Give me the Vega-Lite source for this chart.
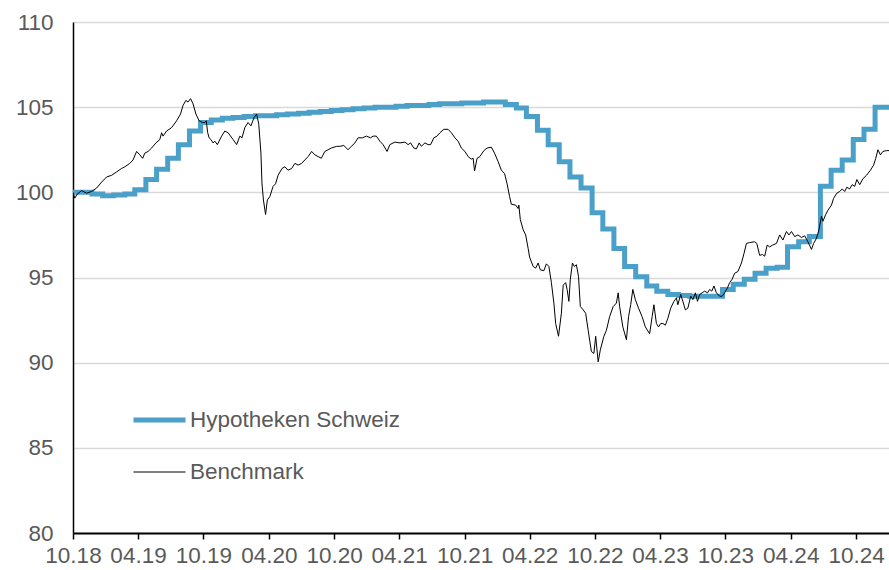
{
 "$schema": "https://vega.github.io/schema/vega-lite/v6.json",
 "width": 816, "height": 511,
 "autosize": "none",
 "padding": {"left": 73, "top": 22, "right": 0, "bottom": 37},
 "background": "white",
 "config": {"view": {"stroke": null}, "font": "Liberation Sans"},
 "datasets": {
  "hypo": [
   {"date":"2018-10-01","series":"Hypotheken Schweiz","value":100.0},
   {"date":"2018-10-23","series":"Hypotheken Schweiz","value":100.0},
   {"date":"2018-11-23","series":"Hypotheken Schweiz","value":99.9},
   {"date":"2018-12-23","series":"Hypotheken Schweiz","value":99.8},
   {"date":"2019-01-23","series":"Hypotheken Schweiz","value":99.85},
   {"date":"2019-02-23","series":"Hypotheken Schweiz","value":99.9},
   {"date":"2019-03-23","series":"Hypotheken Schweiz","value":100.15},
   {"date":"2019-04-23","series":"Hypotheken Schweiz","value":100.75},
   {"date":"2019-05-23","series":"Hypotheken Schweiz","value":101.35},
   {"date":"2019-06-23","series":"Hypotheken Schweiz","value":102.0},
   {"date":"2019-07-23","series":"Hypotheken Schweiz","value":102.8},
   {"date":"2019-08-23","series":"Hypotheken Schweiz","value":103.6},
   {"date":"2019-09-23","series":"Hypotheken Schweiz","value":104.1},
   {"date":"2019-10-23","series":"Hypotheken Schweiz","value":104.25},
   {"date":"2019-11-23","series":"Hypotheken Schweiz","value":104.35},
   {"date":"2019-12-23","series":"Hypotheken Schweiz","value":104.4},
   {"date":"2020-01-23","series":"Hypotheken Schweiz","value":104.45},
   {"date":"2020-02-23","series":"Hypotheken Schweiz","value":104.5},
   {"date":"2020-03-23","series":"Hypotheken Schweiz","value":104.5},
   {"date":"2020-04-23","series":"Hypotheken Schweiz","value":104.55},
   {"date":"2020-05-23","series":"Hypotheken Schweiz","value":104.6},
   {"date":"2020-06-23","series":"Hypotheken Schweiz","value":104.65},
   {"date":"2020-07-23","series":"Hypotheken Schweiz","value":104.7},
   {"date":"2020-08-23","series":"Hypotheken Schweiz","value":104.75},
   {"date":"2020-09-23","series":"Hypotheken Schweiz","value":104.8},
   {"date":"2020-10-23","series":"Hypotheken Schweiz","value":104.85},
   {"date":"2020-11-23","series":"Hypotheken Schweiz","value":104.9},
   {"date":"2020-12-23","series":"Hypotheken Schweiz","value":104.95},
   {"date":"2021-01-23","series":"Hypotheken Schweiz","value":105.0},
   {"date":"2021-02-23","series":"Hypotheken Schweiz","value":105.0},
   {"date":"2021-03-23","series":"Hypotheken Schweiz","value":105.05},
   {"date":"2021-04-23","series":"Hypotheken Schweiz","value":105.1},
   {"date":"2021-05-23","series":"Hypotheken Schweiz","value":105.1},
   {"date":"2021-06-23","series":"Hypotheken Schweiz","value":105.15},
   {"date":"2021-07-23","series":"Hypotheken Schweiz","value":105.2},
   {"date":"2021-08-23","series":"Hypotheken Schweiz","value":105.2},
   {"date":"2021-09-23","series":"Hypotheken Schweiz","value":105.25},
   {"date":"2021-10-23","series":"Hypotheken Schweiz","value":105.25},
   {"date":"2021-11-23","series":"Hypotheken Schweiz","value":105.3},
   {"date":"2021-12-23","series":"Hypotheken Schweiz","value":105.3},
   {"date":"2022-01-23","series":"Hypotheken Schweiz","value":105.15},
   {"date":"2022-02-23","series":"Hypotheken Schweiz","value":104.95},
   {"date":"2022-03-23","series":"Hypotheken Schweiz","value":104.45},
   {"date":"2022-04-23","series":"Hypotheken Schweiz","value":103.65},
   {"date":"2022-05-23","series":"Hypotheken Schweiz","value":102.8},
   {"date":"2022-06-23","series":"Hypotheken Schweiz","value":101.8},
   {"date":"2022-07-23","series":"Hypotheken Schweiz","value":100.9},
   {"date":"2022-08-23","series":"Hypotheken Schweiz","value":100.25},
   {"date":"2022-09-23","series":"Hypotheken Schweiz","value":98.8},
   {"date":"2022-10-23","series":"Hypotheken Schweiz","value":97.85},
   {"date":"2022-11-23","series":"Hypotheken Schweiz","value":96.7},
   {"date":"2022-12-23","series":"Hypotheken Schweiz","value":95.65},
   {"date":"2023-01-23","series":"Hypotheken Schweiz","value":95.05},
   {"date":"2023-02-23","series":"Hypotheken Schweiz","value":94.5},
   {"date":"2023-03-23","series":"Hypotheken Schweiz","value":94.2},
   {"date":"2023-04-23","series":"Hypotheken Schweiz","value":94.0},
   {"date":"2023-05-23","series":"Hypotheken Schweiz","value":93.95},
   {"date":"2023-06-23","series":"Hypotheken Schweiz","value":93.9},
   {"date":"2023-07-23","series":"Hypotheken Schweiz","value":93.9},
   {"date":"2023-08-23","series":"Hypotheken Schweiz","value":93.9},
   {"date":"2023-09-23","series":"Hypotheken Schweiz","value":94.3},
   {"date":"2023-10-23","series":"Hypotheken Schweiz","value":94.6},
   {"date":"2023-11-23","series":"Hypotheken Schweiz","value":94.9},
   {"date":"2023-12-23","series":"Hypotheken Schweiz","value":95.25},
   {"date":"2024-01-23","series":"Hypotheken Schweiz","value":95.55},
   {"date":"2024-02-23","series":"Hypotheken Schweiz","value":95.6},
   {"date":"2024-03-23","series":"Hypotheken Schweiz","value":96.8},
   {"date":"2024-04-23","series":"Hypotheken Schweiz","value":97.1},
   {"date":"2024-05-23","series":"Hypotheken Schweiz","value":97.4},
   {"date":"2024-06-23","series":"Hypotheken Schweiz","value":100.35},
   {"date":"2024-07-23","series":"Hypotheken Schweiz","value":101.3},
   {"date":"2024-08-23","series":"Hypotheken Schweiz","value":101.9},
   {"date":"2024-09-23","series":"Hypotheken Schweiz","value":103.1},
   {"date":"2024-10-23","series":"Hypotheken Schweiz","value":103.7},
   {"date":"2024-11-23","series":"Hypotheken Schweiz","value":105.0},
   {"date":"2025-01-01","series":"Hypotheken Schweiz","value":105.0}
  ],
  "bench": [
   {"date":"2018-10-01","series":"Benchmark","value":100.0},
   {"date":"2018-10-06","series":"Benchmark","value":99.66},
   {"date":"2018-10-13","series":"Benchmark","value":99.9},
   {"date":"2018-10-25","series":"Benchmark","value":100.1},
   {"date":"2018-11-08","series":"Benchmark","value":99.95},
   {"date":"2018-11-22","series":"Benchmark","value":100.05},
   {"date":"2018-12-06","series":"Benchmark","value":100.25},
   {"date":"2018-12-20","series":"Benchmark","value":100.6},
   {"date":"2019-01-03","series":"Benchmark","value":100.9},
   {"date":"2019-01-17","series":"Benchmark","value":101.0},
   {"date":"2019-01-31","series":"Benchmark","value":101.2},
   {"date":"2019-02-14","series":"Benchmark","value":101.4},
   {"date":"2019-02-23","series":"Benchmark","value":101.5},
   {"date":"2019-03-09","series":"Benchmark","value":101.7},
   {"date":"2019-03-18","series":"Benchmark","value":101.9},
   {"date":"2019-03-28","series":"Benchmark","value":102.4},
   {"date":"2019-04-06","series":"Benchmark","value":102.2},
   {"date":"2019-04-14","series":"Benchmark","value":102.0},
   {"date":"2019-04-20","series":"Benchmark","value":102.3},
   {"date":"2019-04-29","series":"Benchmark","value":102.4},
   {"date":"2019-05-09","series":"Benchmark","value":102.6},
   {"date":"2019-05-21","series":"Benchmark","value":102.9},
   {"date":"2019-06-01","series":"Benchmark","value":103.1},
   {"date":"2019-06-06","series":"Benchmark","value":103.5},
   {"date":"2019-06-10","series":"Benchmark","value":103.3},
   {"date":"2019-06-20","series":"Benchmark","value":103.6},
   {"date":"2019-07-04","series":"Benchmark","value":103.8},
   {"date":"2019-07-18","series":"Benchmark","value":104.2},
   {"date":"2019-07-29","series":"Benchmark","value":104.6},
   {"date":"2019-08-05","series":"Benchmark","value":105.1},
   {"date":"2019-08-13","series":"Benchmark","value":105.4},
   {"date":"2019-08-19","series":"Benchmark","value":105.3},
   {"date":"2019-08-26","series":"Benchmark","value":105.5},
   {"date":"2019-09-02","series":"Benchmark","value":105.2},
   {"date":"2019-09-10","series":"Benchmark","value":104.6},
   {"date":"2019-09-19","series":"Benchmark","value":104.2},
   {"date":"2019-09-29","series":"Benchmark","value":104.1},
   {"date":"2019-10-05","series":"Benchmark","value":104.1},
   {"date":"2019-10-09","series":"Benchmark","value":104.2},
   {"date":"2019-10-13","series":"Benchmark","value":103.5},
   {"date":"2019-10-17","series":"Benchmark","value":103.2},
   {"date":"2019-10-22","series":"Benchmark","value":103.1},
   {"date":"2019-10-28","series":"Benchmark","value":102.9},
   {"date":"2019-11-02","series":"Benchmark","value":103.0},
   {"date":"2019-11-09","series":"Benchmark","value":102.8},
   {"date":"2019-11-21","series":"Benchmark","value":103.3},
   {"date":"2019-11-30","series":"Benchmark","value":103.6},
   {"date":"2019-12-09","series":"Benchmark","value":103.5},
   {"date":"2019-12-23","series":"Benchmark","value":103.1},
   {"date":"2020-01-02","series":"Benchmark","value":102.8},
   {"date":"2020-01-11","series":"Benchmark","value":103.3},
   {"date":"2020-01-17","series":"Benchmark","value":103.2},
   {"date":"2020-01-25","series":"Benchmark","value":103.8},
   {"date":"2020-02-03","series":"Benchmark","value":104.1},
   {"date":"2020-02-11","series":"Benchmark","value":103.9},
   {"date":"2020-02-20","series":"Benchmark","value":104.4},
   {"date":"2020-02-27","series":"Benchmark","value":104.6},
   {"date":"2020-03-04","series":"Benchmark","value":104.0},
   {"date":"2020-03-10","series":"Benchmark","value":102.3},
   {"date":"2020-03-13","series":"Benchmark","value":100.5},
   {"date":"2020-03-17","series":"Benchmark","value":99.55},
   {"date":"2020-03-23","series":"Benchmark","value":98.7},
   {"date":"2020-03-28","series":"Benchmark","value":99.55},
   {"date":"2020-04-04","series":"Benchmark","value":99.75},
   {"date":"2020-04-13","series":"Benchmark","value":100.35},
   {"date":"2020-04-20","series":"Benchmark","value":100.5},
   {"date":"2020-04-27","series":"Benchmark","value":101.0},
   {"date":"2020-05-08","series":"Benchmark","value":101.4},
   {"date":"2020-05-16","series":"Benchmark","value":101.5},
   {"date":"2020-05-25","series":"Benchmark","value":101.3},
   {"date":"2020-06-04","series":"Benchmark","value":101.4},
   {"date":"2020-06-13","series":"Benchmark","value":101.7},
   {"date":"2020-06-22","series":"Benchmark","value":101.6},
   {"date":"2020-07-02","series":"Benchmark","value":101.7},
   {"date":"2020-07-11","series":"Benchmark","value":101.9},
   {"date":"2020-07-20","series":"Benchmark","value":102.1},
   {"date":"2020-07-30","series":"Benchmark","value":102.4},
   {"date":"2020-08-08","series":"Benchmark","value":102.2},
   {"date":"2020-08-17","series":"Benchmark","value":102.1},
   {"date":"2020-08-26","series":"Benchmark","value":102.0},
   {"date":"2020-09-05","series":"Benchmark","value":102.4},
   {"date":"2020-09-14","series":"Benchmark","value":102.5},
   {"date":"2020-09-23","series":"Benchmark","value":102.6},
   {"date":"2020-10-08","series":"Benchmark","value":102.7},
   {"date":"2020-10-17","series":"Benchmark","value":102.7},
   {"date":"2020-10-28","series":"Benchmark","value":102.75},
   {"date":"2020-11-09","series":"Benchmark","value":102.5},
   {"date":"2020-11-18","series":"Benchmark","value":102.7},
   {"date":"2020-11-28","series":"Benchmark","value":102.9},
   {"date":"2020-12-07","series":"Benchmark","value":103.2},
   {"date":"2020-12-19","series":"Benchmark","value":103.2},
   {"date":"2020-12-30","series":"Benchmark","value":103.3},
   {"date":"2021-01-11","series":"Benchmark","value":103.2},
   {"date":"2021-01-18","series":"Benchmark","value":103.3},
   {"date":"2021-01-27","series":"Benchmark","value":103.3},
   {"date":"2021-02-06","series":"Benchmark","value":103.0},
   {"date":"2021-02-15","series":"Benchmark","value":102.8},
   {"date":"2021-02-26","series":"Benchmark","value":102.4},
   {"date":"2021-03-06","series":"Benchmark","value":102.8},
   {"date":"2021-03-20","series":"Benchmark","value":102.95},
   {"date":"2021-04-03","series":"Benchmark","value":102.9},
   {"date":"2021-04-17","series":"Benchmark","value":102.95},
   {"date":"2021-04-26","series":"Benchmark","value":102.8},
   {"date":"2021-05-03","series":"Benchmark","value":102.9},
   {"date":"2021-05-12","series":"Benchmark","value":102.6},
   {"date":"2021-05-19","series":"Benchmark","value":102.55},
   {"date":"2021-05-27","series":"Benchmark","value":102.9},
   {"date":"2021-06-02","series":"Benchmark","value":102.7},
   {"date":"2021-06-12","series":"Benchmark","value":102.9},
   {"date":"2021-06-21","series":"Benchmark","value":102.8},
   {"date":"2021-06-28","series":"Benchmark","value":102.8},
   {"date":"2021-07-07","series":"Benchmark","value":103.2},
   {"date":"2021-07-16","series":"Benchmark","value":103.3},
   {"date":"2021-07-24","series":"Benchmark","value":103.5},
   {"date":"2021-08-04","series":"Benchmark","value":103.7},
   {"date":"2021-08-16","series":"Benchmark","value":103.7},
   {"date":"2021-08-25","series":"Benchmark","value":103.5},
   {"date":"2021-09-04","series":"Benchmark","value":103.2},
   {"date":"2021-09-13","series":"Benchmark","value":103.0},
   {"date":"2021-09-22","series":"Benchmark","value":102.6},
   {"date":"2021-10-02","series":"Benchmark","value":102.4},
   {"date":"2021-10-11","series":"Benchmark","value":102.1},
   {"date":"2021-10-20","series":"Benchmark","value":101.95},
   {"date":"2021-10-25","series":"Benchmark","value":102.0},
   {"date":"2021-10-29","series":"Benchmark","value":101.25},
   {"date":"2021-11-05","series":"Benchmark","value":102.0},
   {"date":"2021-11-13","series":"Benchmark","value":102.1},
   {"date":"2021-11-24","series":"Benchmark","value":102.45},
   {"date":"2021-12-03","series":"Benchmark","value":102.6},
   {"date":"2021-12-15","series":"Benchmark","value":102.65},
   {"date":"2021-12-24","series":"Benchmark","value":102.3},
   {"date":"2022-01-03","series":"Benchmark","value":101.8},
   {"date":"2022-01-12","series":"Benchmark","value":101.3},
   {"date":"2022-01-21","series":"Benchmark","value":101.1},
   {"date":"2022-01-28","series":"Benchmark","value":100.5},
   {"date":"2022-02-04","series":"Benchmark","value":99.75},
   {"date":"2022-02-09","series":"Benchmark","value":99.3},
   {"date":"2022-02-21","series":"Benchmark","value":99.25},
   {"date":"2022-02-28","series":"Benchmark","value":99.05},
   {"date":"2022-03-02","series":"Benchmark","value":99.25},
   {"date":"2022-03-06","series":"Benchmark","value":98.4},
   {"date":"2022-03-14","series":"Benchmark","value":97.8},
   {"date":"2022-03-21","series":"Benchmark","value":97.5},
   {"date":"2022-03-28","series":"Benchmark","value":96.7},
   {"date":"2022-04-01","series":"Benchmark","value":96.2},
   {"date":"2022-04-11","series":"Benchmark","value":95.65},
   {"date":"2022-04-18","series":"Benchmark","value":95.55},
   {"date":"2022-04-25","series":"Benchmark","value":95.85},
   {"date":"2022-05-01","series":"Benchmark","value":95.45},
   {"date":"2022-05-11","series":"Benchmark","value":95.4},
   {"date":"2022-05-18","series":"Benchmark","value":95.8},
   {"date":"2022-05-25","series":"Benchmark","value":95.65},
   {"date":"2022-06-01","series":"Benchmark","value":94.7},
   {"date":"2022-06-08","series":"Benchmark","value":93.5},
   {"date":"2022-06-13","series":"Benchmark","value":92.3},
   {"date":"2022-06-21","series":"Benchmark","value":91.55},
   {"date":"2022-06-29","series":"Benchmark","value":92.9},
   {"date":"2022-07-04","series":"Benchmark","value":94.55},
   {"date":"2022-07-11","series":"Benchmark","value":94.7},
   {"date":"2022-07-15","series":"Benchmark","value":94.3},
   {"date":"2022-07-20","series":"Benchmark","value":93.6},
   {"date":"2022-07-24","series":"Benchmark","value":94.9},
   {"date":"2022-07-30","series":"Benchmark","value":95.85},
   {"date":"2022-08-04","series":"Benchmark","value":95.65},
   {"date":"2022-08-10","series":"Benchmark","value":95.75},
   {"date":"2022-08-16","series":"Benchmark","value":95.05},
   {"date":"2022-08-21","series":"Benchmark","value":93.3},
   {"date":"2022-08-29","series":"Benchmark","value":93.1},
   {"date":"2022-09-05","series":"Benchmark","value":92.9},
   {"date":"2022-09-12","series":"Benchmark","value":91.9},
   {"date":"2022-09-21","series":"Benchmark","value":90.65},
   {"date":"2022-09-28","series":"Benchmark","value":90.55},
   {"date":"2022-10-03","series":"Benchmark","value":91.55},
   {"date":"2022-10-10","series":"Benchmark","value":90.05},
   {"date":"2022-10-16","series":"Benchmark","value":90.75},
   {"date":"2022-10-26","series":"Benchmark","value":91.55},
   {"date":"2022-11-02","series":"Benchmark","value":91.9},
   {"date":"2022-11-11","series":"Benchmark","value":92.7},
   {"date":"2022-11-21","series":"Benchmark","value":93.3},
   {"date":"2022-11-30","series":"Benchmark","value":93.5},
   {"date":"2022-12-05","series":"Benchmark","value":94.1},
   {"date":"2022-12-09","series":"Benchmark","value":93.3},
   {"date":"2022-12-18","series":"Benchmark","value":92.1},
   {"date":"2022-12-28","series":"Benchmark","value":91.35},
   {"date":"2023-01-03","series":"Benchmark","value":92.7},
   {"date":"2023-01-09","series":"Benchmark","value":93.4},
   {"date":"2023-01-15","series":"Benchmark","value":94.3},
   {"date":"2023-01-22","series":"Benchmark","value":93.7},
   {"date":"2023-01-31","series":"Benchmark","value":93.2},
   {"date":"2023-02-10","series":"Benchmark","value":92.7},
   {"date":"2023-02-19","series":"Benchmark","value":92.1},
   {"date":"2023-03-03","series":"Benchmark","value":91.7},
   {"date":"2023-03-10","series":"Benchmark","value":92.7},
   {"date":"2023-03-15","series":"Benchmark","value":93.4},
   {"date":"2023-03-22","series":"Benchmark","value":92.3},
   {"date":"2023-03-28","series":"Benchmark","value":92.1},
   {"date":"2023-04-03","series":"Benchmark","value":92.3},
   {"date":"2023-04-09","series":"Benchmark","value":92.3},
   {"date":"2023-04-16","series":"Benchmark","value":92.2},
   {"date":"2023-04-23","series":"Benchmark","value":92.6},
   {"date":"2023-05-01","series":"Benchmark","value":93.2},
   {"date":"2023-05-10","series":"Benchmark","value":93.6},
   {"date":"2023-05-17","series":"Benchmark","value":93.8},
   {"date":"2023-05-21","series":"Benchmark","value":93.4},
   {"date":"2023-05-29","series":"Benchmark","value":94.0},
   {"date":"2023-06-04","series":"Benchmark","value":93.6},
   {"date":"2023-06-11","series":"Benchmark","value":93.1},
   {"date":"2023-06-18","series":"Benchmark","value":93.2},
   {"date":"2023-06-26","series":"Benchmark","value":93.9},
   {"date":"2023-07-02","series":"Benchmark","value":93.7},
   {"date":"2023-07-09","series":"Benchmark","value":94.1},
   {"date":"2023-07-15","series":"Benchmark","value":93.6},
   {"date":"2023-07-21","series":"Benchmark","value":94.0},
   {"date":"2023-07-28","series":"Benchmark","value":94.1},
   {"date":"2023-08-04","series":"Benchmark","value":94.2},
   {"date":"2023-08-12","series":"Benchmark","value":94.1},
   {"date":"2023-08-18","series":"Benchmark","value":94.3},
   {"date":"2023-08-24","series":"Benchmark","value":94.2},
   {"date":"2023-08-30","series":"Benchmark","value":94.5},
   {"date":"2023-09-06","series":"Benchmark","value":94.1},
   {"date":"2023-09-15","series":"Benchmark","value":93.9},
   {"date":"2023-09-22","series":"Benchmark","value":93.9},
   {"date":"2023-09-29","series":"Benchmark","value":94.1},
   {"date":"2023-10-07","series":"Benchmark","value":94.4},
   {"date":"2023-10-13","series":"Benchmark","value":94.7},
   {"date":"2023-10-20","series":"Benchmark","value":94.9},
   {"date":"2023-10-27","series":"Benchmark","value":95.25},
   {"date":"2023-11-05","series":"Benchmark","value":95.35},
   {"date":"2023-11-15","series":"Benchmark","value":95.85},
   {"date":"2023-11-22","series":"Benchmark","value":96.4},
   {"date":"2023-11-29","series":"Benchmark","value":97.0},
   {"date":"2023-12-08","series":"Benchmark","value":97.05},
   {"date":"2023-12-22","series":"Benchmark","value":97.1},
   {"date":"2023-12-28","series":"Benchmark","value":97.0},
   {"date":"2024-01-05","series":"Benchmark","value":96.3},
   {"date":"2024-01-13","series":"Benchmark","value":96.35},
   {"date":"2024-01-19","series":"Benchmark","value":96.25},
   {"date":"2024-01-26","series":"Benchmark","value":96.9},
   {"date":"2024-02-02","series":"Benchmark","value":96.8},
   {"date":"2024-02-10","series":"Benchmark","value":96.9},
   {"date":"2024-02-21","series":"Benchmark","value":97.0},
   {"date":"2024-03-01","series":"Benchmark","value":97.5},
   {"date":"2024-03-10","series":"Benchmark","value":97.2},
   {"date":"2024-03-20","series":"Benchmark","value":97.7},
   {"date":"2024-03-27","series":"Benchmark","value":97.5},
   {"date":"2024-04-03","series":"Benchmark","value":97.7},
   {"date":"2024-04-12","series":"Benchmark","value":97.4},
   {"date":"2024-04-21","series":"Benchmark","value":97.5},
   {"date":"2024-05-01","series":"Benchmark","value":97.35},
   {"date":"2024-05-10","series":"Benchmark","value":97.45},
   {"date":"2024-05-19","series":"Benchmark","value":97.1},
   {"date":"2024-05-29","series":"Benchmark","value":96.65},
   {"date":"2024-06-04","series":"Benchmark","value":97.0},
   {"date":"2024-06-12","series":"Benchmark","value":97.3},
   {"date":"2024-06-19","series":"Benchmark","value":97.8},
   {"date":"2024-06-26","series":"Benchmark","value":98.6},
   {"date":"2024-06-30","series":"Benchmark","value":98.3},
   {"date":"2024-07-08","series":"Benchmark","value":98.7},
   {"date":"2024-07-14","series":"Benchmark","value":98.95},
   {"date":"2024-07-24","series":"Benchmark","value":99.25},
   {"date":"2024-07-30","series":"Benchmark","value":99.65},
   {"date":"2024-08-08","series":"Benchmark","value":99.95},
   {"date":"2024-08-16","series":"Benchmark","value":100.05},
   {"date":"2024-08-23","series":"Benchmark","value":100.2},
   {"date":"2024-08-30","series":"Benchmark","value":100.05},
   {"date":"2024-09-05","series":"Benchmark","value":100.3},
   {"date":"2024-09-13","series":"Benchmark","value":100.2},
   {"date":"2024-09-20","series":"Benchmark","value":100.45},
   {"date":"2024-09-27","series":"Benchmark","value":100.35},
   {"date":"2024-10-03","series":"Benchmark","value":100.75},
   {"date":"2024-10-11","series":"Benchmark","value":100.45},
   {"date":"2024-10-20","series":"Benchmark","value":100.8},
   {"date":"2024-10-30","series":"Benchmark","value":101.0},
   {"date":"2024-11-10","series":"Benchmark","value":101.3},
   {"date":"2024-11-19","series":"Benchmark","value":101.6},
   {"date":"2024-11-25","series":"Benchmark","value":102.0},
   {"date":"2024-12-01","series":"Benchmark","value":102.5},
   {"date":"2024-12-08","series":"Benchmark","value":102.2},
   {"date":"2024-12-15","series":"Benchmark","value":102.4},
   {"date":"2024-12-25","series":"Benchmark","value":102.45},
   {"date":"2025-01-01","series":"Benchmark","value":102.45}
  ]
 },
 "encoding": {
  "x": {
   "field": "date", "type": "temporal",
   "scale": {"type": "utc", "domain": [{"year": 2018, "month": 10, "date": 1, "utc": true}, {"year": 2025, "month": 1, "date": 1, "utc": true}]},
   "axis": {
    "title": null, "format": "%m.%y", "grid": false,
    "values": [
     {"year": 2018, "month": 10, "date": 1, "utc": true},
     {"year": 2019, "month": 4, "date": 1, "utc": true},
     {"year": 2019, "month": 10, "date": 1, "utc": true},
     {"year": 2020, "month": 4, "date": 1, "utc": true},
     {"year": 2020, "month": 10, "date": 1, "utc": true},
     {"year": 2021, "month": 4, "date": 1, "utc": true},
     {"year": 2021, "month": 10, "date": 1, "utc": true},
     {"year": 2022, "month": 4, "date": 1, "utc": true},
     {"year": 2022, "month": 10, "date": 1, "utc": true},
     {"year": 2023, "month": 4, "date": 1, "utc": true},
     {"year": 2023, "month": 10, "date": 1, "utc": true},
     {"year": 2024, "month": 4, "date": 1, "utc": true},
     {"year": 2024, "month": 10, "date": 1, "utc": true}
    ],
    "domainColor": "#000000", "domainWidth": 2,
    "tickColor": "#000000", "tickWidth": 1.5, "tickSize": 6,
    "labelFlush": false, "labelOverlap": false,
    "labelFontSize": 22.5, "labelColor": "#595959", "labelPadding": 5
   }
  },
  "y": {
   "field": "value", "type": "quantitative",
   "scale": {"domain": [80, 110], "nice": false, "zero": false},
   "axis": {
    "title": null, "values": [80, 85, 90, 95, 100, 105, 110],
    "grid": true, "gridColor": "#d9d9d9", "gridWidth": 1.5,
    "ticks": false, "domainColor": "#000000", "domainWidth": 1.5,
    "labelFontSize": 22.5, "labelColor": "#595959", "labelPadding": 20
   }
  },
  "color": {
   "field": "series", "type": "nominal",
   "scale": {"domain": ["Hypotheken Schweiz", "Benchmark"], "range": ["#4aa0c8", "#000000"]},
   "legend": {
    "title": null, "orient": "none", "legendX": 58, "legendY": 388,
    "symbolType": "stroke", "symbolSize": 2704, "clipHeight": 20, "rowPadding": 29,
    "padding": 0, "labelOffset": 2, "labelLimit": 0,
    "labelFontSize": 22.5, "labelColor": "#595959", "labelFont": "Liberation Sans"
   }
  },
  "strokeWidth": {
   "field": "series", "type": "nominal",
   "scale": {"domain": ["Hypotheken Schweiz", "Benchmark"], "range": [5, 1]},
   "legend": {
    "title": null, "orient": "none", "legendX": 58, "legendY": 388,
    "symbolType": "stroke", "symbolSize": 2704, "clipHeight": 20, "rowPadding": 29,
    "padding": 0, "labelOffset": 2, "labelLimit": 0,
    "labelFontSize": 22.5, "labelColor": "#595959", "labelFont": "Liberation Sans"
   }
  }
 },
 "layer": [
  {"data": {"name": "hypo"}, "mark": {"type": "line", "interpolate": "step-after", "clip": true}},
  {"data": {"name": "bench"}, "mark": {"type": "line", "clip": true}}
 ]
}
